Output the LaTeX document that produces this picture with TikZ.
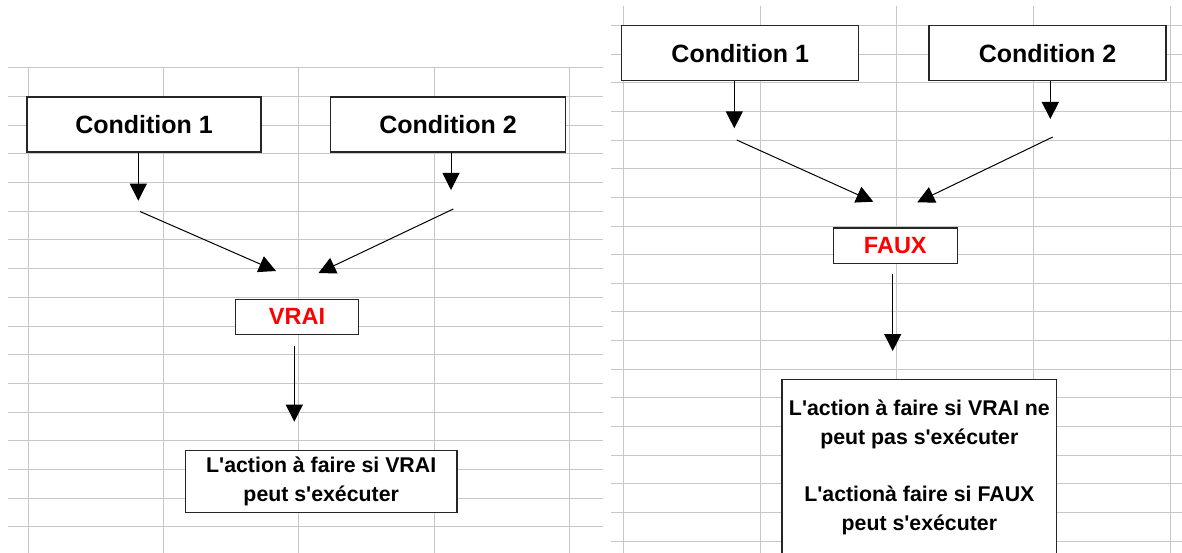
\documentclass[tikz,border=0pt]{standalone}
\usepackage{fontspec}
\setmainfont{Liberation Sans}
\usetikzlibrary{arrows.meta}
\newcommand{\ap}{\textquotesingle}
\begin{document}
\begin{tikzpicture}[x=1pt,y=-1pt,
  gridline/.style={draw=black!22,line width=1.3pt},
  boxc/.style={draw=black!85,line width=1.4pt,fill=white,inner sep=0pt,font=\bfseries\fontsize{25}{29}\selectfont},
  resbox/.style={draw=black!85,line width=1.4pt,fill=white,inner sep=0pt,text=red,font=\bfseries\fontsize{23.5}{27}\selectfont},
  actbox/.style={draw=black!85,line width=1.4pt,fill=white,inner sep=0pt,align=center,font=\bfseries\fontsize{21.3}{28.6}\selectfont},
  arr/.style={draw=black,line width=1pt,-{Triangle[width=17pt,length=17pt]}}]
\useasboundingbox (0,0) rectangle (1182,553);
\begin{scope}
\clip (0,0) rectangle (1182,553);
% left grid
\foreach \k in {0,...,16} \draw[gridline] (8,{round(67.3+28.7*\k)+0.5}) -- (603,{round(67.3+28.7*\k)+0.5});
\foreach \xx in {28.5,163.5,298.5,434.5,569.5} \draw[gridline] (\xx,67) -- (\xx,553);
% right grid
\foreach \k in {0,...,18} \draw[gridline] (611,{round(25+28.65*\k)+0.5}) -- (1182,{round(25+28.65*\k)+0.5});
\foreach \xx in {623.5,760.5,896.5,1033.5,1170.5} \draw[gridline] (\xx,6) -- (\xx,553);

% left diagram
\node[boxc,minimum width=234pt,minimum height=55pt] (lc1) at (144,124.6) {Condition 1};
\node[boxc,minimum width=234.6pt,minimum height=55pt] (lc2) at (448,124.6) {Condition 2};
\node[resbox,minimum width=122.6pt,minimum height=35pt] (lv) at (297,316.8) {VRAI};
\node[actbox,minimum width=271.7pt,minimum height=62.4pt] (la) at (321.2,481.5) {L\ap action à faire si VRAI\\peut s\ap exécuter};
\coordinate (la1) at (138.3,200.7);
\coordinate (la2) at (451,190);
\coordinate (ld1s) at (140,211.5);
\coordinate (ld1e) at (276,271);
\coordinate (ld2s) at (453.3,209);
\coordinate (ld2e) at (318.5,273);
\coordinate (lvs) at (294.3,345.7);
\coordinate (lve) at (294.3,421.7);
\draw[arr] (la1 |- lc1.south) -- (la1);
\draw[arr] (la2 |- lc2.south) -- (la2);
\draw[arr] (ld1s) -- (ld1e);
\draw[arr] (ld2s) -- (ld2e);
\draw[arr] (lvs) -- (lve);

% right diagram
\node[boxc,minimum width=237pt,minimum height=55pt] (rc1) at (740.2,53.2) {Condition 1};
\node[boxc,minimum width=237pt,minimum height=55pt] (rc2) at (1047.5,53.3) {Condition 2};
\node[resbox,minimum width=124pt,minimum height=35.3pt] (rf) at (895.3,245.7) {FAUX};
\node[actbox,minimum width=274.7pt,minimum height=190pt,anchor=north] (ra) at (919.35,379) {};
\node[actbox,draw=none,fill=none] (rat) at (919.35,467.5) {L\ap action à faire si VRAI ne\\peut pas s\ap exécuter\\[28.6pt]L\ap actionà faire si FAUX\\peut s\ap exécuter};
\coordinate (ra1) at (734.3,128.3);
\coordinate (ra2) at (1050.3,119);
\coordinate (rd1s) at (736.7,140);
\coordinate (rd1e) at (873.3,201.7);
\coordinate (rd2s) at (1052.7,137);
\coordinate (rd2e) at (917.3,202.3);
\coordinate (rfs) at (892.7,274.3);
\coordinate (rfe) at (892.7,351);
\draw[arr] (ra1 |- rc1.south) -- (ra1);
\draw[arr] (ra2 |- rc2.south) -- (ra2);
\draw[arr] (rd1s) -- (rd1e);
\draw[arr] (rd2s) -- (rd2e);
\draw[arr] (rfs) -- (rfe);
\end{scope}
\end{tikzpicture}
\end{document}
